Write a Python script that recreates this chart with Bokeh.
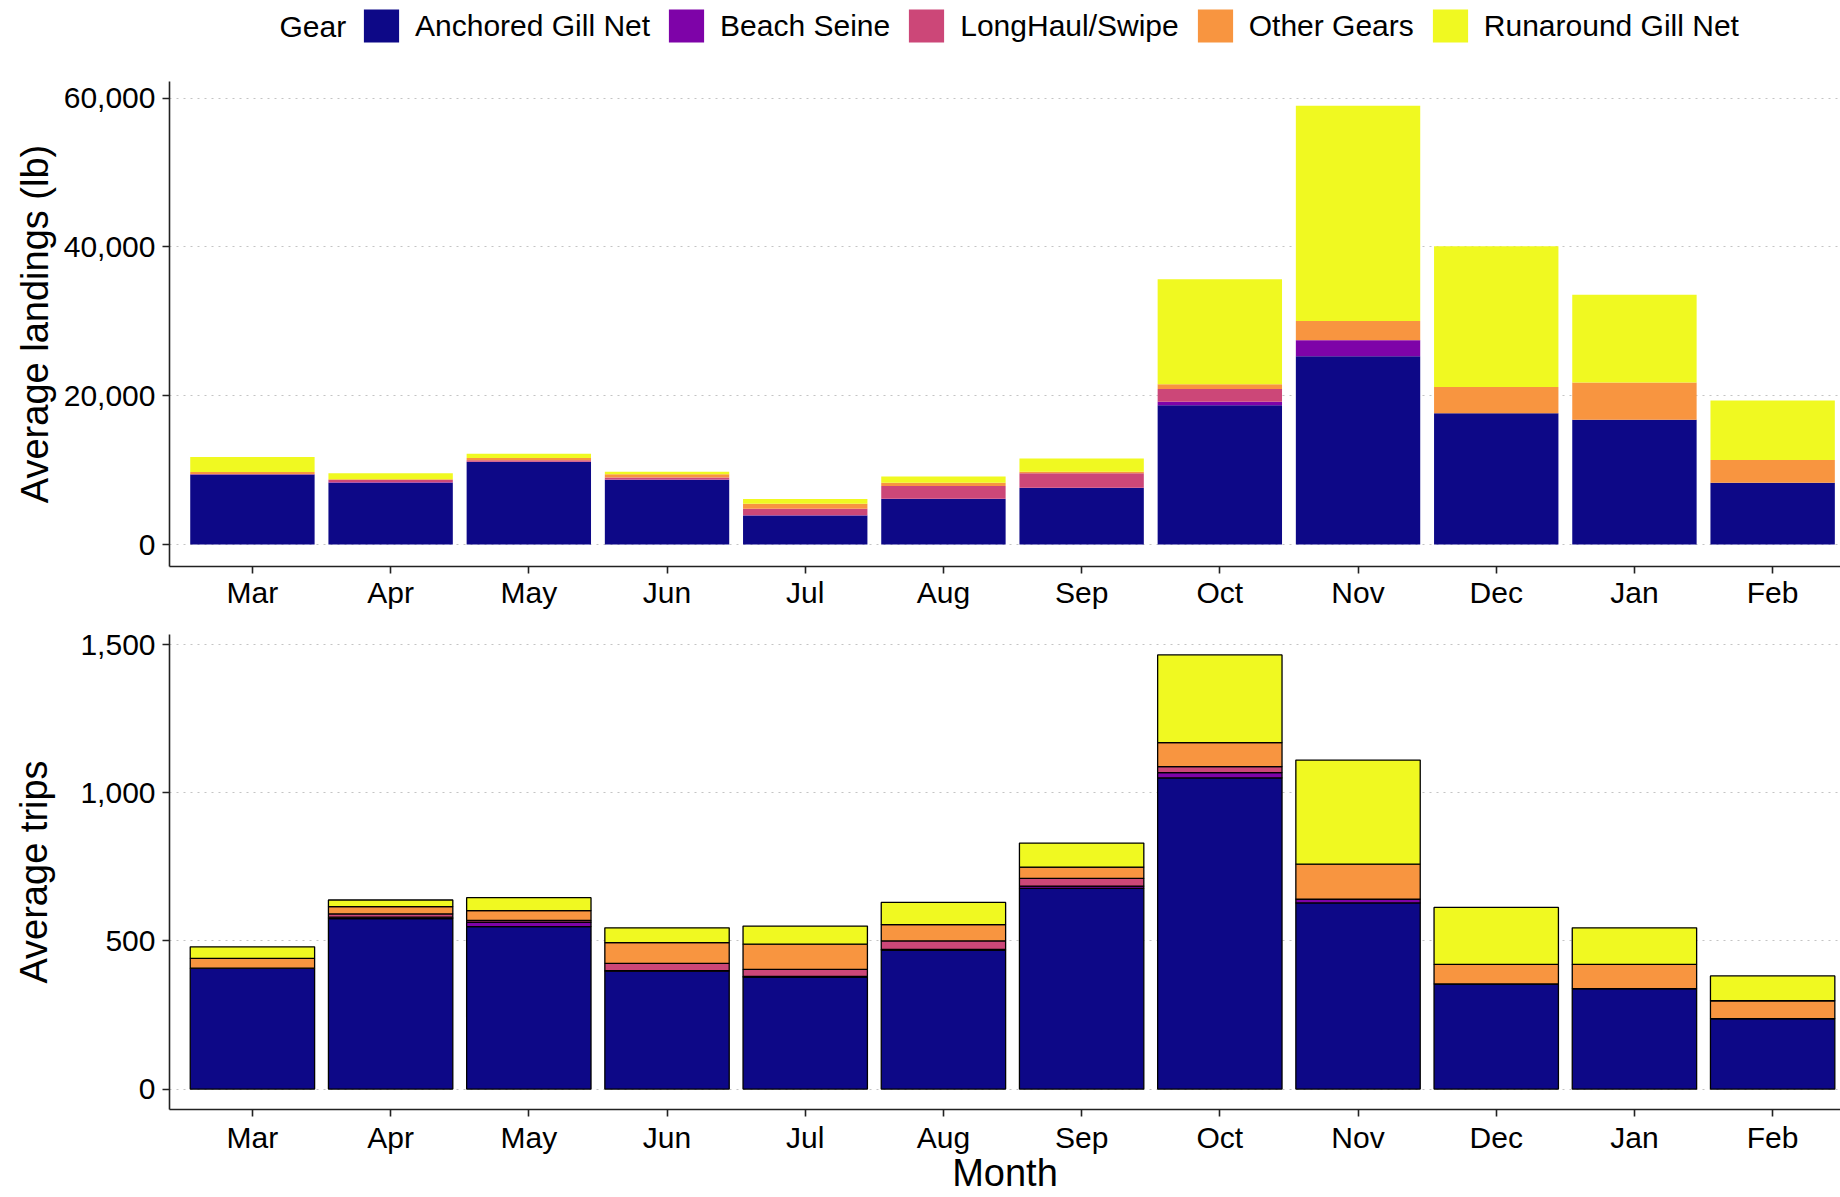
from bokeh.plotting import figure
from bokeh.models import (ColumnDataSource, Range1d, FixedTicker, NumeralTickFormatter,
                          Legend, LegendItem, Label)
from bokeh.layouts import column
from bokeh.embed import file_html
from bokeh.resources import INLINE

# ---------------- data ----------------
months = ["Mar", "Apr", "May", "Jun", "Jul", "Aug", "Sep", "Oct", "Nov", "Dec", "Jan", "Feb"]
gears = ["Anchored Gill Net", "Beach Seine", "LongHaul/Swipe", "Other Gears", "Runaround Gill Net"]
gear_keys = ["anchored", "beach", "longhaul", "other", "runaround"]
gear_colors = ["#0D0887", "#7E03A8", "#CC4778", "#F89540", "#F0F921"]
legend_title = "Gear"

# Average landings (lb)
land_anchored = [9430, 8310, 11100, 8720, 3910, 6120, 7600, 18730, 25300, 17650, 16760, 8310]
land_beach = [0, 60, 40, 30, 20, 30, 30, 450, 2150, 0, 0, 0]
land_longhaul = [60, 300, 200, 250, 880, 1720, 1950, 1710, 50, 0, 0, 0]
land_other = [250, 120, 300, 450, 670, 450, 220, 670, 2550, 3510, 5030, 3060]
land_runaround = [2040, 780, 580, 350, 640, 840, 1750, 14110, 28940, 18920, 11770, 8000]

# Average trips
trip_anchored = [408, 575, 548, 398, 378, 469, 677, 1050, 628, 355, 339, 238]
trip_beach = [0, 5, 15, 2, 2, 2, 8, 18, 13, 0, 0, 0]
trip_longhaul = [0, 11, 6, 24, 24, 29, 26, 20, 0, 0, 0, 0]
trip_other = [33, 25, 33, 70, 85, 55, 38, 81, 118, 66, 82, 60]
trip_runaround = [39, 22, 44, 50, 61, 75, 81, 296, 351, 192, 123, 84]

land_ticks = [0, 20000, 40000, 60000]
trip_ticks = [0, 500, 1000, 1500]

FONT = "Liberation Sans"
W = 1840
FRAME_LEFT = 169
xpos = list(range(1, len(months) + 1))

land_src = ColumnDataSource(dict(x=xpos, anchored=land_anchored, beach=land_beach,
                                 longhaul=land_longhaul, other=land_other,
                                 runaround=land_runaround))
trip_src = ColumnDataSource(dict(x=xpos, anchored=trip_anchored, beach=trip_beach,
                                 longhaul=trip_longhaul, other=trip_other,
                                 runaround=trip_runaround))


def padded(vals_lists, lo=0.05, hi=0.05):
    tot = [sum(v) for v in zip(*vals_lists)]
    mx = max(tot)
    return (-lo * mx, mx * (1 + hi))


# ---------------- legend strip ----------------
LEG_H = 60
leg_fig = figure(width=W, height=LEG_H, x_range=Range1d(0, 1), y_range=Range1d(0, 1),
                 output_backend="svg", toolbar_location=None, min_border=0,
                 min_border_left=FRAME_LEFT,
                 x_axis_location=None, y_axis_location=None, outline_line_color=None)
leg_fig.xgrid.visible = False
leg_fig.ygrid.visible = False
items = []
for g, c in zip(gears, gear_colors):
    # proxy renderer placed outside the visible range; only its swatch is shown
    r = leg_fig.vbar(x=[-5], top=[-4], bottom=[-5], width=0.5, fill_color=c, line_color=None)
    items.append(LegendItem(label=g, renderers=[r]))

legend = Legend(items=items, orientation="horizontal", location=(190, 14),
                glyph_width=44, glyph_height=41, label_height=33,
                label_standoff=12, spacing=14,
                padding=0, margin=0, border_line_color=None, background_fill_alpha=0,
                label_text_font=FONT, label_text_font_size="30px", label_text_color="black")
leg_fig.add_layout(legend)
leg_fig.add_layout(Label(x=279 - FRAME_LEFT, y=LEG_H - 25.5, x_units="screen", y_units="screen",
                         text=legend_title, text_font=FONT, text_font_size="30px",
                         text_baseline="middle", text_color="black"))


# ---------------- panels ----------------
def make_panel(height, src, yr, ticks, ylabel, outline, min_top, min_bottom, ylabel_standoff,
               xlabel_standoff, xlabel=None):
    p = figure(width=W, height=height, x_range=Range1d(0.4, 12.491), y_range=Range1d(*yr),
               output_backend="svg", toolbar_location=None,
               min_border_left=FRAME_LEFT, min_border_right=0,
               min_border_top=min_top, min_border_bottom=min_bottom,
               outline_line_color=None)
    if outline:
        p.vbar_stack(gear_keys, x="x", width=0.9, source=src, fill_color=gear_colors,
                     line_color="black", line_width=1.3)
    else:
        p.vbar_stack(gear_keys, x="x", width=0.9, source=src, fill_color=gear_colors,
                     line_color=None)
    p.xgrid.visible = False
    p.ygrid.grid_line_color = "#c4c4c4"
    p.ygrid.grid_line_dash = "2 5"
    p.ygrid.grid_line_width = 1.2
    p.ygrid.level = "underlay"

    p.xaxis.ticker = FixedTicker(ticks=xpos)
    p.xaxis.major_label_overrides = {i: m for i, m in zip(xpos, months)}
    p.yaxis.ticker = FixedTicker(ticks=ticks)
    p.yaxis.formatter = NumeralTickFormatter(format="0,0")
    for ax in (p.xaxis, p.yaxis):
        ax.axis_line_color = "#222222"
        ax.axis_line_width = 1.6
        ax.major_tick_line_color = "#222222"
        ax.major_tick_line_width = 1.6
        ax.major_tick_out = 7
        ax.major_tick_in = 0
        ax.minor_tick_line_color = None
        ax.major_label_text_font = FONT
        ax.major_label_text_font_size = "30px"
        ax.major_label_text_color = "black"
        ax.axis_label_text_font = FONT
        ax.axis_label_text_font_style = "normal"
        ax.axis_label_text_color = "black"
        ax.axis_label_text_font_size = "38px"
    p.xaxis.major_label_standoff = xlabel_standoff
    p.yaxis.major_label_standoff = 7
    p.yaxis.axis_label = ylabel
    p.yaxis.axis_label_standoff = ylabel_standoff
    if xlabel:
        p.xaxis.axis_label = xlabel
        p.xaxis.axis_label_standoff = -5
    return p


top = make_panel(554, land_src,
                 padded([land_anchored, land_beach, land_longhaul, land_other, land_runaround],
                        0.05, 0.055),
                 land_ticks, "Average landings (lb)", False, 21, 48, 5, 2)
bottom = make_panel(582, trip_src,
                    padded([trip_anchored, trip_beach, trip_longhaul, trip_other, trip_runaround],
                           0.047, 0.047),
                    trip_ticks, "Average trips", True, 20, 81, 22, 4, xlabel="Month")

layout = column(leg_fig, top, bottom, spacing=0)
open("out.html", "w").write(file_html(layout, INLINE))
